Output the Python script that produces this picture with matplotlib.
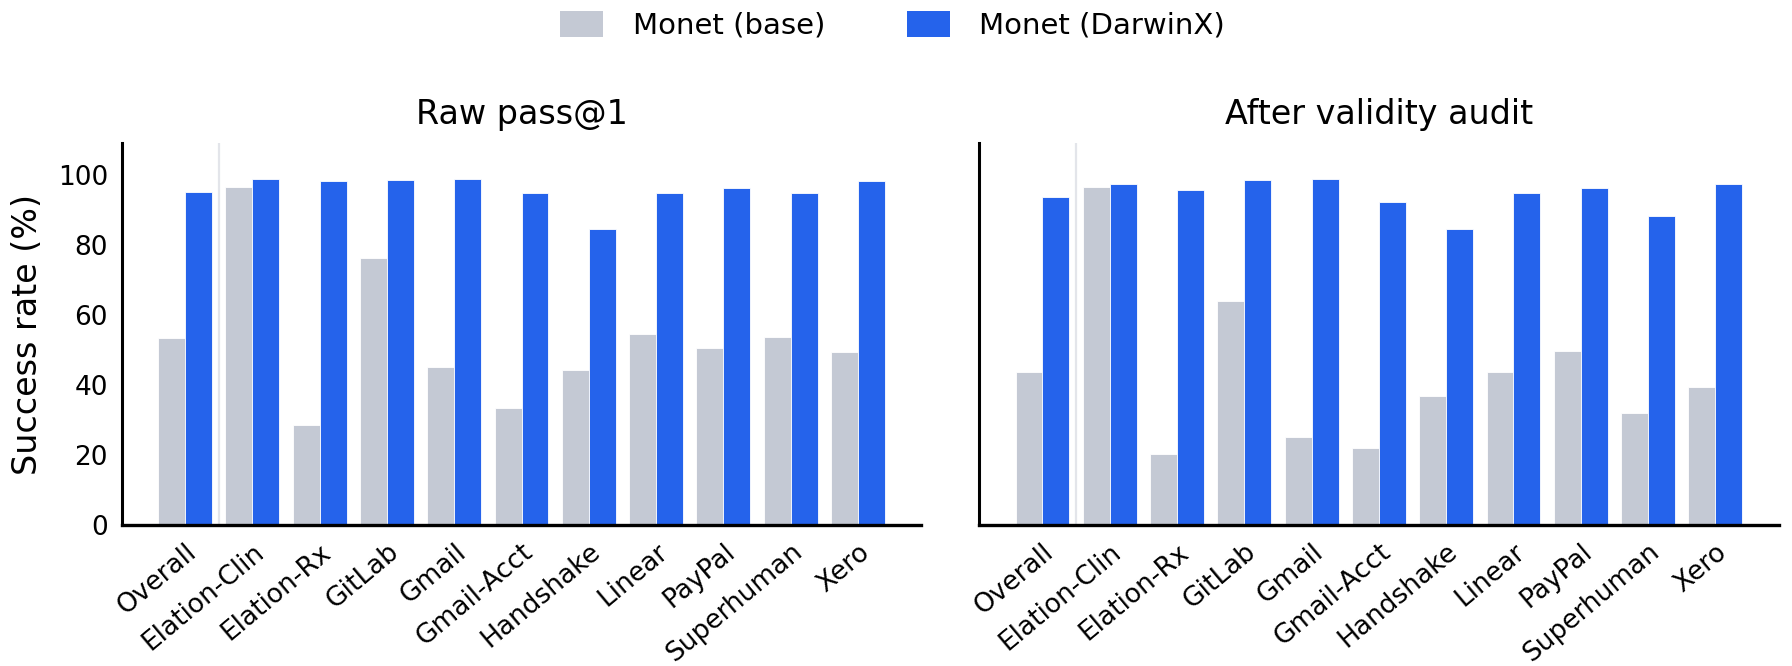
import numpy as np
import matplotlib
matplotlib.use("Agg")
import matplotlib.pyplot as plt
from matplotlib.patches import Patch

# Data
categories = ["Overall", "Elation-Clin", "Elation-Rx", "GitLab", "Gmail", "Gmail-Acct",
              "Handshake", "Linear", "PayPal", "Superhuman", "Xero"]

raw_base = [53.3, 96.5, 28.6, 76.2, 45.2, 33.5, 44.3, 54.5, 50.4, 53.6, 49.5]
raw_darwin = [95.0, 98.9, 98.1, 98.5, 98.9, 94.8, 84.6, 94.8, 96.2, 94.8, 98.1]

audit_base = [43.8, 96.5, 20.2, 64.0, 25.1, 21.9, 36.8, 43.6, 49.7, 31.9, 39.4]
audit_darwin = [93.6, 97.3, 95.6, 98.5, 98.9, 92.3, 84.6, 94.8, 96.3, 88.1, 97.3]

panel_titles = ["Raw pass@1", "After validity audit"]
series_labels = ["Monet (base)", "Monet (DarwinX)"]

BASE_COLOR = "#C4C9D4"
DARWIN_COLOR = "#2563EB"
SEP_COLOR = "#E3E5EA"

plt.rcParams["font.family"] = ["DejaVu Sans"]

fig, axes = plt.subplots(1, 2, figsize=(17.92, 6.66), dpi=100, sharey=True)
fig.subplots_adjust(left=0.068, right=0.9925, bottom=0.2117, top=0.785, wspace=0.0725)

x = np.arange(len(categories))
w = 0.4

for ax, title, base, darwin in zip(axes, panel_titles,
                                   [raw_base, audit_base], [raw_darwin, audit_darwin]):
    ax.bar(x - w / 2, base, width=w, color=BASE_COLOR, edgecolor="white", linewidth=0.6, zorder=2)
    ax.bar(x + w / 2, darwin, width=w, color=DARWIN_COLOR, edgecolor="white", linewidth=0.6, zorder=2)
    # separator between the overall bar and the per-app bars
    ax.axvline(0.5, color=SEP_COLOR, linewidth=1.6, zorder=1)

    ax.set_title(title, fontsize=24, pad=14)
    ax.set_ylim(0, 109)
    ax.set_yticks([0, 20, 40, 60, 80, 100])
    ax.set_xticks(x)
    ax.set_xticklabels(categories, rotation=40, ha="right", rotation_mode="anchor", fontsize=19)
    ax.tick_params(axis="both", length=0, labelsize=19)
    ax.tick_params(axis="x", pad=10)
    ax.tick_params(axis="y", pad=10)

    for side in ["top", "right"]:
        ax.spines[side].set_visible(False)
    ax.spines["left"].set_linewidth(2.2)
    ax.spines["bottom"].set_linewidth(2.4)

axes[0].set_ylabel("Success rate (%)", fontsize=24, labelpad=10)
axes[1].tick_params(axis="y", labelleft=False)

handles = [Patch(facecolor=BASE_COLOR, label=series_labels[0]),
           Patch(facecolor=DARWIN_COLOR, label=series_labels[1])]
fig.legend(handles=handles, loc="center", bbox_to_anchor=(0.498, 0.962), ncol=2,
           frameon=False, fontsize=21, handlelength=1.5, handleheight=1.0,
           columnspacing=2.8, handletextpad=1.0)

fig.savefig("out.png", dpi=100)
